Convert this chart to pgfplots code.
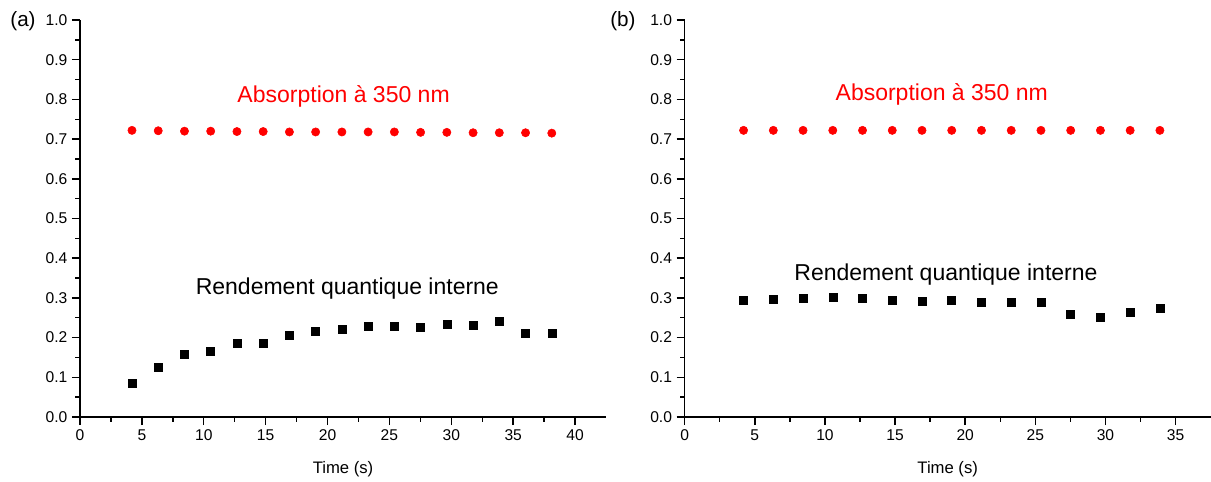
\documentclass[border=0pt]{standalone}
\usepackage{fontspec}
\setmainfont{Liberation Sans}
\usepackage{pgfplots}
\pgfplotsset{compat=1.18}
\definecolor{pred}{RGB}{255,0,0}
\pgfplotsset{
  panel/.style={
    width=394.5pt, height=297.75pt, scale only axis,
    axis x line*=bottom, axis y line*=left,
    axis line style={-, line width=1.1pt},
    every tick/.style={black, line width=1.1pt},
    tick align=outside,
    major tick length=6pt, minor tick length=3.5pt,
    ymin=0, ymax=1,
    ytick={0,0.1,...,1.0},
    minor y tick num=1, minor x tick num=1,
    yticklabel style={/pgf/number format/.cd, fixed, fixed zerofill, precision=1, assume math mode=true},
    xticklabel style={/pgf/number format/assume math mode=true},
    tick label style={font=\fontsize{11.7pt}{13pt}\selectfont},
    xlabel style={at={(axis description cs:0.5,0)}, anchor=base, yshift=-42.5pt, font=\fontsize{12.5pt}{14pt}\selectfont},
    xlabel={Time (s)},
    clip=false,
  },
}
\begin{document}
\begin{tikzpicture}
\useasboundingbox (-60pt,-48.75pt) rectangle (848.25pt,312.75pt);
\begin{axis}[panel, at={(0pt,0pt)}, anchor=origin, xmin=0, xmax=42.5, xtick={0,5,...,40}]
\addplot[only marks, mark=*, mark size=3.1pt, color=pred] coordinates {
(4.2,0.722) (6.32,0.721) (8.44,0.720) (10.56,0.720) (12.68,0.719) (14.8,0.719)
(16.92,0.718) (19.04,0.718) (21.16,0.718) (23.28,0.718) (25.4,0.718) (27.52,0.717)
(29.64,0.717) (31.76,0.716) (33.88,0.716) (36.0,0.716) (38.12,0.715)};
\addplot[only marks, mark=square*, mark size=3.0pt, color=black] coordinates {
(4.2,0.085) (6.32,0.125) (8.44,0.158) (10.56,0.165) (12.68,0.185) (14.8,0.185)
(16.92,0.205) (19.04,0.215) (21.16,0.220) (23.28,0.229) (25.4,0.229) (27.52,0.225)
(29.64,0.234) (31.76,0.232) (33.88,0.242) (36.0,0.210) (38.12,0.212)};
\node[anchor=base, text=pred, font=\fontsize{17.25pt}{20pt}\selectfont] at (axis cs:21.3,0.792) {Absorption à 350 nm};
\node[anchor=base, font=\fontsize{17.25pt}{20pt}\selectfont] at (axis cs:21.6,0.309) {Rendement quantique interne};
\node[font=\fontsize{15.5pt}{18pt}\selectfont] at (rel axis cs:0,1) [xshift=-42.75pt, yshift=-0.75pt] {(a)};
\end{axis}
\begin{axis}[panel, at={(453.5pt,0pt)}, anchor=origin, xmin=0, xmax=37.5, xtick={0,5,...,35}]
\addplot[only marks, mark=*, mark size=3.1pt, color=pred] coordinates {
(4.2,0.722) (6.32,0.722) (8.44,0.722) (10.56,0.722) (12.68,0.722) (14.8,0.722)
(16.92,0.722) (19.04,0.722) (21.16,0.722) (23.28,0.722) (25.4,0.722) (27.52,0.722)
(29.64,0.722) (31.76,0.722) (33.88,0.722)};
\addplot[only marks, mark=square*, mark size=3.0pt, color=black] coordinates {
(4.2,0.293) (6.32,0.297) (8.44,0.300) (10.56,0.301) (12.68,0.299) (14.8,0.294)
(16.92,0.292) (19.04,0.293) (21.16,0.289) (23.28,0.288) (25.4,0.290) (27.52,0.260)
(29.64,0.252) (31.76,0.264) (33.88,0.274)};
\node[anchor=base, text=pred, font=\fontsize{17.25pt}{20pt}\selectfont] at (axis cs:18.33,0.797) {Absorption à 350 nm};
\node[anchor=base, font=\fontsize{17.25pt}{20pt}\selectfont] at (axis cs:18.63,0.345) {Rendement quantique interne};
\node[font=\fontsize{15.5pt}{18pt}\selectfont] at (rel axis cs:0,1) [xshift=-46.3pt, yshift=-0.75pt] {(b)};
\end{axis}
\end{tikzpicture}
\end{document}
